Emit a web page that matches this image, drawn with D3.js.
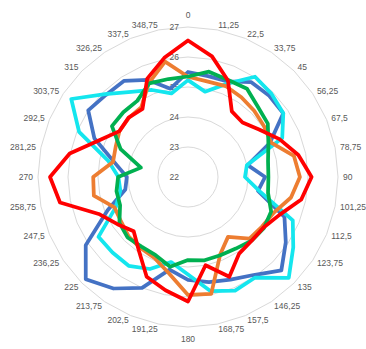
<!DOCTYPE html>
<html>
<head>
<meta charset="utf-8">
<script src="https://cdn.jsdelivr.net/npm/d3@7"></script>
<style>
  body { margin: 0; background: #fff; }
  svg { display: block; font-family: "Liberation Sans", Arial, sans-serif; }
</style>
</head>
<body>
<div id="chart"></div>
<script>
'use strict';

// wind direction categories (degrees, comma decimals as in the source)
const categories = ['0', '11,25', '22,5', '33,75', '45', '56,25', '67,5', '78,75',
  '90', '101,25', '112,5', '123,75', '135', '146,25', '157,5', '168,75',
  '180', '191,25', '202,5', '213,75', '225', '236,25', '247,5', '258,75',
  '270', '281,25', '292,5', '303,75', '315', '326,25', '337,5', '348,75'];

const tickValues = [22, 23, 24, 25, 26, 27];

const blueValues = [25.5, 25.43, 25.45, 25.8, 25.83, 25.82, 24.95, 24.03,
  24.57, 24.38, 25.48, 25.92, 26.4, 25.93, 25.7, 25.57,
  25.43, 25.15, 26.0, 26.47, 26.82, 26.1, 24.9, 24.13,
  24.04, 24.5, 25.38, 26.0, 25.87, 25.85, 25.5, 25.0];

const cyanValues = [25.23, 24.9, 25.36, 26.02, 25.93, 25.82, 25.4, 24.0,
  23.9, 24.44, 25.78, 26.22, 26.75, 26.03, 26.1, 25.88,
  25.25, 24.89, 25.32, 25.56, 25.56, 25.59, 24.6, 24.3,
  24.32, 24.7, 25.93, 26.68, 25.91, 25.41, 25.14, 24.84];

const orangeValues = [25.34, 25.25, 25.28, 25.2, 25.12, 25.05, 25.0, 25.6,
  25.73, 25.5, 25.1, 24.97, 24.9, 24.4, 24.8, 25.97,
  25.93, 25.27, 24.92, 24.85, 24.8, 24.68, 24.65, 25.2,
  25.16, 24.55, 24.61, 24.75, 24.79, 24.8, 25.4, 25.92];

const greenValues = [25.35, 25.58, 25.5, 25.54, 25.3, 25.2, 24.9, 24.72,
  24.68, 24.72, 25.0, 25.05, 25.0, 24.87, 24.82, 24.83,
  24.77, 25.05, 24.82, 24.79, 24.85, 24.75, 24.45, 24.43,
  24.33, 23.6, 24.43, 25.05, 25.05, 25.05, 25.38, 25.33];

const redValues = [26.55, 26.1, 25.48, 24.63, 24.57, 24.85, 25.3, 25.75,
  26.12, 25.85, 25.3, 25.03, 25.0, 25.07, 25.6, 25.0,
  26.15, 25.85, 25.6, 24.95, 24.56, 24.83, 25.22, 26.35,
  26.6, 26.02, 25.2, 24.75, 24.8, 24.73, 25.55, 26.05];

const series = [
  {values: blueValues, color: '#4472C4'},
  {values: cyanValues, color: '#14E6EE'},
  {values: orangeValues, color: '#ED7D31'},
  {values: greenValues, color: '#00B050'},
  {values: redValues, color: '#FF0000'},
];

const width = 366;
const height = 349;
const cx = 188;
const cy = 177;
const outer = 150;

const svg = d3.select('#chart')
  .append('svg')
    .attr('width', width)
    .attr('height', height);

const g = svg.append('g')
  .attr('transform', `translate(${cx},${cy})`);

const r = d3.scaleLinear()
  .domain([d3.min(tickValues), d3.max(tickValues)])
  .range([0, outer]);

const angle = d3.scaleLinear()
  .domain([0, categories.length])
  .range([0, 2 * Math.PI]);

// gridlines (32-sided polygons like excel draws them)
const gridLine = d3.lineRadial()
  .angle((d, i) => angle(i))
  .curve(d3.curveLinearClosed);

g.selectAll('.grid')
  .data(tickValues.slice(1))
  .enter()
  .append('path')
    .attr('class', 'grid')
    .attr('d', (t) => gridLine.radius(r(t))(categories))
    .attr('fill', 'none')
    .attr('stroke', '#d9d9d9')
    .attr('stroke-width', 1);

// value axis labels, to the left of the vertical axis
g.selectAll('.tick')
  .data(tickValues)
  .enter()
  .append('text')
    .attr('class', 'tick')
    .attr('x', -9)
    .attr('y', (t) => -r(t))
    .attr('dy', '0.35em')
    .attr('text-anchor', 'end')
    .attr('font-size', '8.5px')
    .attr('fill', '#595959')
    .text((t) => t);

// category labels round the outside
g.selectAll('.cat')
  .data(categories)
  .enter()
  .append('text')
    .attr('class', 'cat')
    .each(function(d, i) {
      const a = angle(i);
      const s = Math.sin(a);
      const c = Math.cos(a);
      const rr = outer + 5;
      let x = rr * s;
      let y = -rr * c;
      let anchor = 'middle';
      if (s > 0.05) anchor = 'start';
      else if (s < -0.05) anchor = 'end';
      else y -= c * 7;
      d3.select(this)
        .attr('x', x)
        .attr('y', y)
        .attr('dy', '0.35em')
        .attr('text-anchor', anchor);
    })
    .attr('font-size', '8.5px')
    .attr('fill', '#595959')
    .text((d) => d);

// series lines
const line = d3.lineRadial()
  .angle((d, i) => angle(i))
  .radius((d) => r(d))
  .curve(d3.curveLinearClosed);

g.selectAll('.series')
  .data(series)
  .enter()
  .append('path')
    .attr('class', 'series')
    .attr('d', (s) => line(s.values))
    .attr('fill', 'none')
    .attr('stroke', (s) => s.color)
    .attr('stroke-width', 3.75)
    .attr('stroke-linejoin', 'round')
    .attr('stroke-linecap', 'round');
</script>
</body>
</html>
